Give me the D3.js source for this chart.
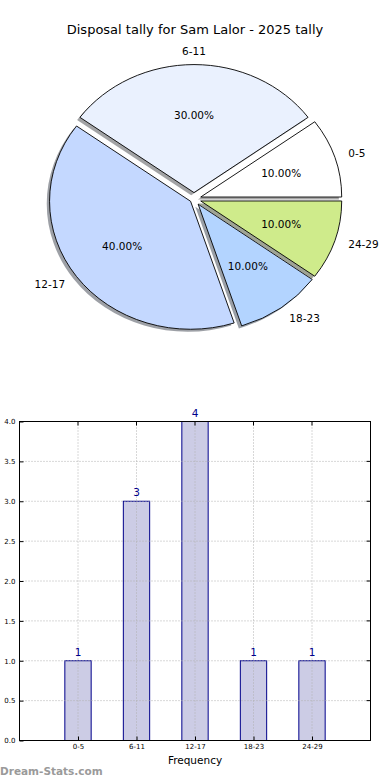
<!DOCTYPE html>
<html lang="en">
<head>
  <meta charset="UTF-8">
  <title>Disposal tally</title>
  <style>
    body { margin: 0; background: #fff; }
    svg { display: block; font-family: 'DejaVu Sans', sans-serif; }
    .grid line { stroke: #b0b0b0; stroke-dasharray: 1,2; }
  </style>
</head>
<body>
  <svg width="390" height="780"></svg>
  <script src="https://cdn.jsdelivr.net/npm/d3@7"></script>
  <script>
    var categories = ['0-5', '6-11', '12-17', '18-23', '24-29']
    var counts = [1, 3, 4, 1, 1]
    var sliceColors = ['#ffffff', '#eaf1fe', '#c4d8ff', '#b3d4ff', '#cfeb8b']
    var explode = [0.05, 0.05, 0.03, 0.05, 0.05]
    var yTicks = [0, 0.5, 1, 1.5, 2, 2.5, 3, 3.5, 4]

    var svg = d3.select('svg')

    // ---- pie (matplotlib style, elliptical) ----
    svg.append('text')
      .attr('x', 195)
      .attr('y', 34)
      .attr('text-anchor', 'middle')
      .attr('font-size', '13px')
      .text('Disposal tally for Sam Lalor - 2025 tally')

    var cx = 194, cy = 199, rx = 141, ry = 128
    var total = d3.sum(counts)
    var slices = d3.pie().sort(null)(counts)

    // keep matplotlib angles (ccw from east)
    slices.forEach(function(d, i) {
      d.theta0 = d.startAngle
      d.theta1 = d.endAngle
      d.mid = (d.theta0 + d.theta1) / 2
      d.i = i
    })

    // matplotlib angle -> d3 arc angle (cw from north)
    var arc = d3.arc()
      .innerRadius(0)
      .outerRadius(1)
      .startAngle(function(d) { return Math.PI / 2 - d.theta1 })
      .endAngle(function(d) { return Math.PI / 2 - d.theta0 })

    function offset(d, r) {
      return [cx + rx * r * Math.cos(d.mid), cy - ry * r * Math.sin(d.mid)]
    }

    var pie = svg.append('g')

    // shadows first
    pie.selectAll('.shadow')
      .data(slices)
      .enter()
      .append('path')
      .attr('class', 'shadow')
      .attr('d', arc)
      .attr('transform', function(d) {
        var p = offset(d, explode[d.i])
        return 'translate(' + (p[0] - 0.02 * rx) + ',' + (p[1] + 0.02 * ry) + ') scale(' + rx + ',' + ry + ')'
      })
      .attr('fill', function(d) {
        var c = d3.rgb(sliceColors[d.i])
        return d3.rgb(c.r * 0.3, c.g * 0.3, c.b * 0.3)
      })
      .attr('opacity', 0.5)

    pie.selectAll('.wedge')
      .data(slices)
      .enter()
      .append('path')
      .attr('class', 'wedge')
      .attr('d', arc)
      .attr('transform', function(d) {
        var p = offset(d, explode[d.i])
        return 'translate(' + p[0] + ',' + p[1] + ') scale(' + rx + ',' + ry + ')'
      })
      .attr('fill', function(d) { return sliceColors[d.i] })
      .attr('stroke', '#000')
      .attr('stroke-width', 0.9)
      .attr('vector-effect', 'non-scaling-stroke')

    pie.selectAll('.pct')
      .data(slices)
      .enter()
      .append('text')
      .attr('x', function(d) { return offset(d, 0.6 + explode[d.i])[0] })
      .attr('y', function(d) { return offset(d, 0.6 + explode[d.i])[1] })
      .attr('dy', '0.35em')
      .attr('text-anchor', 'middle')
      .attr('font-size', '10.5px')
      .text(function(d) { return (d.value / total * 100).toFixed(2) + '%' })

    pie.selectAll('.lbl')
      .data(slices)
      .enter()
      .append('text')
      .attr('x', function(d) { return offset(d, 1.1 + explode[d.i])[0] })
      .attr('y', function(d) { return offset(d, 1.1 + explode[d.i])[1] })
      .attr('dy', '0.35em')
      .attr('text-anchor', function(d) {
        var c = Math.cos(d.mid)
        return Math.abs(c) < 0.01 ? 'middle' : (c > 0 ? 'start' : 'end')
      })
      .attr('font-size', '10.5px')
      .text(function(d) { return categories[d.i] })

    // ---- bar chart ----
    var axL = 19.5, axT = 421.5, axR = 370.5, axB = 740.5
    var x = d3.scaleLinear().domain([-1, categories.length]).range([axL, axR])
    var y = d3.scaleLinear().domain([0, 4]).range([axB, axT])
    var barW = (x(1) - x(0)) * 0.45

    var g = svg.append('g')

    g.selectAll('.bar')
      .data(counts)
      .enter()
      .append('rect')
      .attr('class', 'bar')
      .attr('x', function(d, i) { return x(i) - barW / 2 })
      .attr('y', function(d) { return y(d) })
      .attr('width', barW)
      .attr('height', function(d) { return y(0) - y(d) })
      .attr('fill', '#ccccE5')
      .attr('stroke', '#00008b')
      .attr('stroke-width', 1)

    // grid
    var grid = g.append('g').attr('class', 'grid')
    grid.selectAll('.hy')
      .data(yTicks)
      .enter()
      .append('line')
      .attr('x1', axL).attr('x2', axR)
      .attr('y1', function(d) { return y(d) })
      .attr('y2', function(d) { return y(d) })
    grid.selectAll('.vx')
      .data(categories)
      .enter()
      .append('line')
      .attr('x1', function(d, i) { return x(i) })
      .attr('x2', function(d, i) { return x(i) })
      .attr('y1', axT).attr('y2', axB)

    // axes
    g.append('g')
      .attr('transform', 'translate(' + axL + ',0)')
      .call(d3.axisLeft(y).tickValues(yTicks).tickFormat(d3.format('.1f')).tickSizeInner(-4).tickSizeOuter(0).tickPadding(4))
      .call(function(a) {
        a.select('.domain').remove()
        a.selectAll('line').attr('stroke', '#000')
        a.selectAll('text').attr('font-size', '7px').attr('font-family', 'DejaVu Sans, sans-serif').attr('fill', '#000')
      })

    g.append('g')
      .attr('transform', 'translate(0,' + axB + ')')
      .call(d3.axisBottom(x).tickValues(d3.range(categories.length)).tickFormat(function(i) { return categories[i] }).tickSizeInner(-4).tickSizeOuter(0).tickPadding(4))
      .call(function(a) {
        a.select('.domain').remove()
        a.selectAll('line').attr('stroke', '#000')
        a.selectAll('text').attr('font-size', '7px').attr('font-family', 'DejaVu Sans, sans-serif').attr('fill', '#000')
      })

    // right / top inward ticks
    g.selectAll('.rt')
      .data(yTicks)
      .enter()
      .append('line')
      .attr('x1', axR).attr('x2', axR - 4)
      .attr('y1', function(d) { return y(d) })
      .attr('y2', function(d) { return y(d) })
      .attr('stroke', '#000')
    g.selectAll('.tt')
      .data(categories)
      .enter()
      .append('line')
      .attr('x1', function(d, i) { return x(i) })
      .attr('x2', function(d, i) { return x(i) })
      .attr('y1', axT).attr('y2', axT + 4)
      .attr('stroke', '#000')

    g.append('rect')
      .attr('x', axL).attr('y', axT)
      .attr('width', axR - axL).attr('height', axB - axT)
      .attr('fill', 'none')
      .attr('stroke', '#000')

    g.selectAll('.val')
      .data(counts)
      .enter()
      .append('text')
      .attr('x', function(d, i) { return x(i) })
      .attr('y', function(d) { return y(d) - 5 })
      .attr('text-anchor', 'middle')
      .attr('font-size', '10.5px')
      .attr('fill', '#00008b')
      .text(function(d) { return d })

    svg.append('text')
      .attr('x', (axL + axR) / 2)
      .attr('y', 764)
      .attr('text-anchor', 'middle')
      .attr('font-size', '10.5px')
      .text('Frequency')

    svg.append('text')
      .attr('x', 0)
      .attr('y', 775)
      .attr('font-size', '10.5px')
      .attr('font-weight', 'bold')
      .attr('fill', '#9a9a9a')
      .text('Dream-Stats.com')
  </script>
</body>
</html>
